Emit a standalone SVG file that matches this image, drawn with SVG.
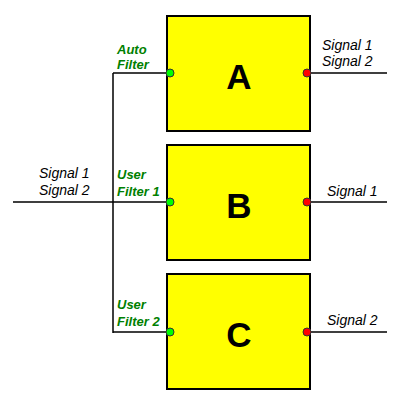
<svg xmlns="http://www.w3.org/2000/svg" width="406" height="405" viewBox="0 0 406 405">
<style>
.box{fill:#ffff00;stroke:#000;stroke-width:2}
.big{font-family:"Liberation Sans",Arial,sans-serif;font-weight:bold;font-size:35px;text-anchor:middle;fill:#000}
.sig{font-family:"Liberation Sans",Arial,sans-serif;font-style:italic;font-size:14px;fill:#000}
.flt{font-family:"Liberation Sans",Arial,sans-serif;font-style:italic;font-weight:bold;font-size:13px;fill:#008000}
.ln{stroke:#000;stroke-width:1.5;fill:none}
.in{fill:#00ff00;stroke:#333;stroke-width:1}
.out{fill:#ff0000;stroke:#333;stroke-width:1}
</style>
<rect width="406" height="405" fill="#fff"/>
<g id="connectors">
<path class="ln" d="M13,202 H170 M113,73 V333 M113,73 H170 M113,332 H170 M307,73 H387 M307,202 H387 M307,332 H387"/>
</g>
<g id="nodeA">
<rect class="box" x="167" y="16" width="143" height="115"/>
<text class="big" x="239" y="89">A</text>
<circle class="in" cx="170" cy="73" r="4"/>
<circle class="out" cx="307" cy="73" r="4"/>
</g>
<g id="nodeB">
<rect class="box" x="167" y="145" width="143" height="115"/>
<text class="big" x="239" y="218">B</text>
<circle class="in" cx="170" cy="202" r="4"/>
<circle class="out" cx="307" cy="202" r="4"/>
</g>
<g id="nodeC">
<rect class="box" x="167" y="274" width="143" height="115"/>
<text class="big" x="239" y="347">C</text>
<circle class="in" cx="170" cy="332" r="4"/>
<circle class="out" cx="307" cy="332" r="4"/>
</g>
<g id="labels">
<text class="flt" x="117" y="54">Auto</text>
<text class="flt" x="117" y="69">Filter</text>
<text class="flt" x="117" y="179">User</text>
<text class="flt" x="117" y="196">Filter 1</text>
<text class="flt" x="117" y="309">User</text>
<text class="flt" x="117" y="326">Filter 2</text>
<text class="sig" x="39" y="178">Signal 1</text>
<text class="sig" x="39" y="195">Signal 2</text>
<text class="sig" x="322" y="50">Signal 1</text>
<text class="sig" x="322" y="66">Signal 2</text>
<text class="sig" x="327" y="196">Signal 1</text>
<text class="sig" x="327" y="325">Signal 2</text>
</g>
</svg>
